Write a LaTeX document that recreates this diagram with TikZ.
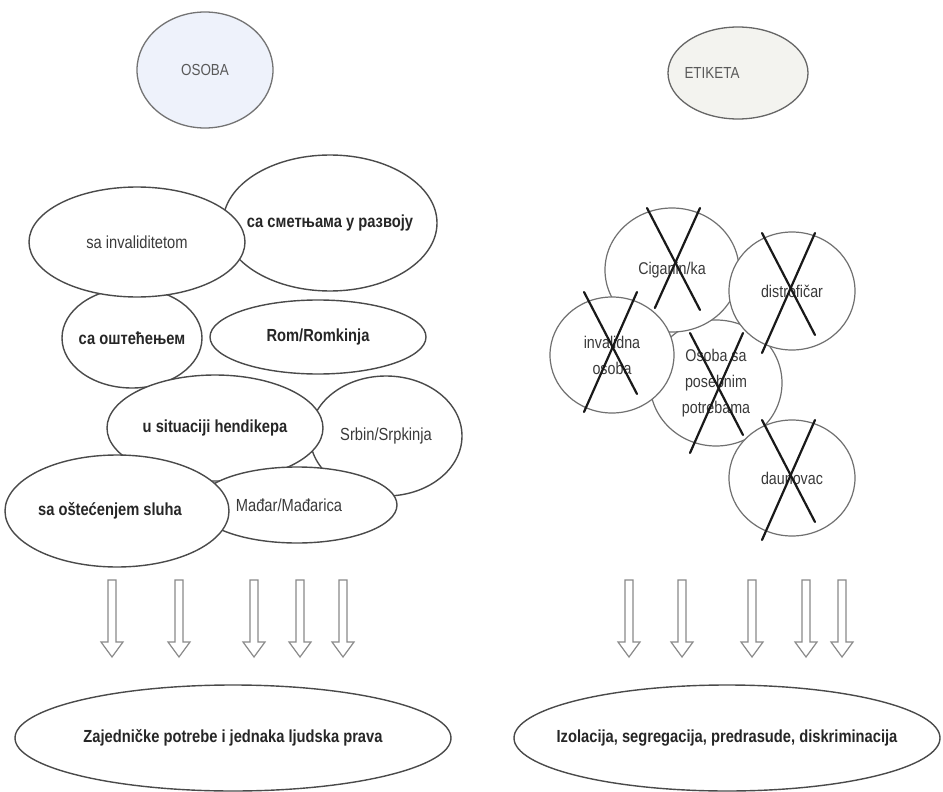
\documentclass[tikz,border=0pt]{standalone}
\usepackage{fontspec}
\setmainfont{Liberation Sans}[FakeStretch=0.84]
\usetikzlibrary{shapes.geometric,calc}
\definecolor{edgegrey}{HTML}{4A4A4A}
\definecolor{circgrey}{HTML}{707070}
\definecolor{arrgrey}{HTML}{8A8A8A}
\definecolor{txtgrey}{HTML}{3A3A3A}
\definecolor{osobafill}{HTML}{EEF2FB}
\definecolor{etikfill}{HTML}{F3F3EF}
\tikzset{
  ell/.style={ellipse, draw=edgegrey, line width=1.4pt, fill=white, inner sep=0pt},
  circ/.style={ellipse, draw=circgrey, line width=1.2pt, fill=white, inner sep=0pt},
  plaintxt/.style={font=\fontsize{17.5}{19}\selectfont, text=txtgrey, inner sep=0pt},
  boldtxt/.style={font=\fontsize{17.5}{19}\selectfont\bfseries, text=black!85, inner sep=0pt},
  crosstxt/.style={font=\fontsize{17}{26}\selectfont, text=txtgrey, align=center, inner sep=0pt},
  titletxt/.style={font=\fontsize{16}{18}\selectfont, text=black!65, inner sep=0pt},
  xline/.style={line width=2.2pt, draw=black!90, line cap=round},
  blockarr/.style={draw=arrgrey, line width=1.2pt, fill=white, line join=miter}
}
% ellipse with centred text: name, cx, cy, rx, ry, shape style, text style, text
\newcommand\ellnode[8]{%
  \node[#6, minimum width=#4pt*2, minimum height=#5pt*2] (#1) at (#2,#3) {};
  \node[#7] (#1t) at (#1.center) {#8};
}
% hollow down arrow at horizontal position
\newcommand\downarr[2]{%
  \coordinate (#1) at (#2,580);
  \draw[blockarr] ($(#1)+(-4,0)$) -- ($(#1)+(4,0)$) -- ($(#1)+(4,62)$) -- ($(#1)+(11,62)$)
     -- ($(#1)+(0,77)$) -- ($(#1)+(-11,62)$) -- ($(#1)+(-4,62)$) -- cycle;
}
% cross over a circle: node, dx, dy, lower end of second stroke
\newcommand\crossout[4]{%
  \coordinate (#1x) at ($(#1)+(#2,#3)$);
  \draw[xline] ($(#1x)+(-26,-54)$) -- ($(#1x)+(27,48)$);
  \draw[xline] ($(#1x)+(27,-54)$) -- ($(#1x)+(-26*#4/66,#4)$);
}
\begin{document}
\begin{tikzpicture}[x=1pt,y=-1pt]
\useasboundingbox[fill=white] (0,0) rectangle (943,792);

% top labels
\node[ellipse, draw=black!55, line width=1.3pt, fill=osobafill, minimum width=136pt, minimum height=116pt, inner sep=0pt] (osoba) at (205,70) {};
\node[titletxt] at (osoba.center) {OSOBA};
\node[ellipse, draw=black!60, line width=1.3pt, fill=etikfill, minimum width=140pt, minimum height=92pt, inner sep=0pt] (etiketa) at (738,73) {};
\node[titletxt] at ($(etiketa.center)+(-26,0)$) {ETIKETA};

% left cluster
\ellnode{smet}{330}{223}{107}{68}{ell}{boldtxt}{са сметњама у развоју}
\ellnode{osht}{132}{338}{70}{50}{ell}{boldtxt}{са оштећењем}
\ellnode{inv}{137}{242}{108}{55}{ell}{plaintxt}{sa invaliditetom}
\ellnode{rom}{318}{337}{108}{37}{ell}{boldtxt}{Rom/Romkinja}
\ellnode{srb}{386}{436}{76}{60}{ell}{plaintxt}{Srbin/Srpkinja}
\ellnode{sit}{215}{428}{108}{53}{ell}{boldtxt}{u situaciji hendikepa}
\ellnode{madj}{297}{505}{100}{38}{ell}{plaintxt}{\hspace*{-16pt}Mađar/Mađarica}
\ellnode{sluh}{117}{511}{112}{56}{ell}{boldtxt}{\hspace*{-14pt}sa oštećenjem sluha}

% right cluster
\ellnode{oso}{716}{383}{66}{63}{circ}{crosstxt}{Osoba sa\\posebnim\\potrebama}
\ellnode{cig}{672}{270}{67}{62}{circ}{crosstxt}{Ciganin/ka}
\ellnode{dis}{792}{291}{63}{59}{circ}{crosstxt}{distrofičar}
\ellnode{invo}{612}{355}{62}{58}{circ}{crosstxt}{invalidna\\osoba}
\ellnode{dau}{792}{478}{63}{58}{circ}{crosstxt}{daunovac}

\crossout{cig}{1}{-8}{46}
\crossout{dis}{-4}{-4}{66}
\crossout{invo}{-2}{-9}{66}
\crossout{oso}{0}{4}{66}
\crossout{dau}{-4}{-4}{66}

% arrows
\downarr{la1}{112}
\downarr{la2}{179}
\downarr{la3}{254}
\downarr{la4}{300}
\downarr{la5}{343}
\downarr{ra1}{629}
\downarr{ra2}{682}
\downarr{ra3}{752}
\downarr{ra4}{806}
\downarr{ra5}{842}

% bottom ellipses
\ellnode{prava}{233}{738}{218}{53}{ell}{boldtxt}{Zajedničke potrebe i jednaka ljudska prava}
\ellnode{diskr}{727}{738}{213}{53}{ell}{boldtxt}{Izolacija, segregacija, predrasude, diskriminacija}
\end{tikzpicture}
\end{document}
